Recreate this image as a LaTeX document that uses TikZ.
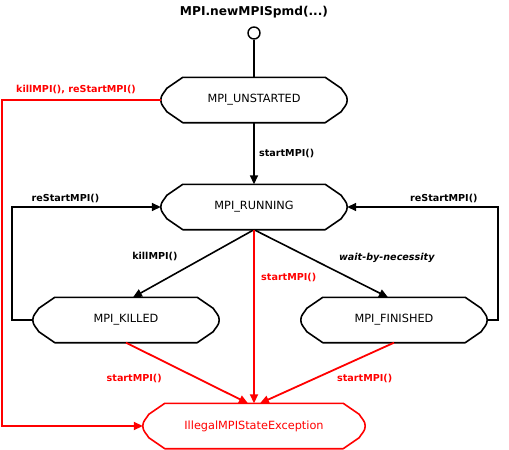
\documentclass[tikz,border=0pt]{standalone}
\usepackage{fontspec}
\setmainfont{DejaVu Sans}
\usetikzlibrary{calc,arrows.meta}
\definecolor{ink}{HTML}{000000}
\definecolor{err}{HTML}{FF0000}
\tikzset{
  state/.style={minimum width=186pt, minimum height=45pt, inner sep=0pt, font=\fontsize{11.3}{13}\selectfont},
  start/.style={circle, draw=ink, line width=1.4pt, minimum size=12pt, inner sep=0pt},
  title/.style={font=\bfseries\fontsize{12.2}{14}\selectfont},
  edge/.style={draw=ink, line width=1.6pt, -{Triangle[length=9pt,width=8pt]}},
  bad/.style={draw=err, line width=1.8pt, -{Triangle[length=9pt,width=8pt]}},
  lab/.style={text=ink, font=\bfseries\fontsize{9.6}{11}\selectfont},
  labr/.style={text=err, font=\bfseries\fontsize{9.6}{11}\selectfont},
}
% outline of a state: flat top and bottom, cut corners, bulging ends
\newcommand{\stateline}[2]{%
  \draw[#2, line width=1.6pt, line join=round]
    ([xshift=22pt]#1.north west) -- ([xshift=-22pt]#1.north east)
    -- ([xshift=-6pt,yshift=-11pt]#1.north east)
    to[out=-60,in=90] (#1.east)
    to[out=-90,in=60] ([xshift=-6pt,yshift=11pt]#1.south east)
    -- ([xshift=-22pt]#1.south east) -- ([xshift=22pt]#1.south west)
    -- ([xshift=6pt,yshift=11pt]#1.south west)
    to[out=120,in=-90] (#1.west)
    to[out=90,in=-120] ([xshift=6pt,yshift=-11pt]#1.north west) -- cycle;}

\begin{document}
\begin{tikzpicture}[x=1pt,y=-1pt]
  \useasboundingbox (0,0) rectangle (509,450);
  \node[title] (head) at (254,12) {MPI.newMPISpmd(...)};
  \node[start] (init) at (254,33) {};
  \node[state] (uns) at (254,100) {MPI\_UNSTARTED};
  \node[state] (run) at (254,207) {MPI\_RUNNING};
  \node[state] (kil) at (126,320) {MPI\_KILLED};
  \node[state] (fin) at (394,320) {MPI\_FINISHED};
  \node[state, minimum width=222pt, text=err] (ill) at (254,426) {IllegalMPIStateException};
  \stateline{uns}{ink}
  \stateline{run}{ink}
  \stateline{kil}{ink}
  \stateline{fin}{ink}
  \stateline{ill}{err}

  \draw[draw=ink, line width=1.6pt] (init) -- (uns.north);
  \draw[edge] (uns.south) -- (run.north) node[lab, midway, right, xshift=1pt] {startMPI()};
  \draw[edge] (kil.west) -- ++(-21,0) |- (run.west) node[lab, pos=0.68, above] {reStartMPI()};
  \draw[edge] (fin.east) -- ++(11,0) |- (run.east) node[lab, pos=0.68, above] {reStartMPI()};
  \draw[edge] (run.south) -- ([xshift=7pt]kil.north) node[lab, pos=0.4, anchor=east, xshift=-24pt] {killMPI()};
  \draw[edge] (run.south) -- ([xshift=-6pt]fin.north) node[lab, pos=0.41, anchor=west, xshift=26pt] {\itshape wait-by-necessity};

  \draw[bad] (uns.west) -- ++(-159,0) |- (ill.west);
  \node[labr, anchor=south] (lk) at (76,97) {killMPI(), reStartMPI()};
  \draw[bad] (run.south) -- (ill.north) node[labr, pos=0.276, anchor=west, xshift=3pt] {startMPI()};
  \draw[bad] (kil.south) -- ([xshift=-6pt]ill.north) node[labr, pos=0.59, anchor=east, xshift=-32pt] {startMPI()};
  \draw[bad] (fin.south) -- ([xshift=6pt]ill.north) node[labr, pos=0.59, anchor=west, xshift=18pt] {startMPI()};
\end{tikzpicture}
\end{document}
